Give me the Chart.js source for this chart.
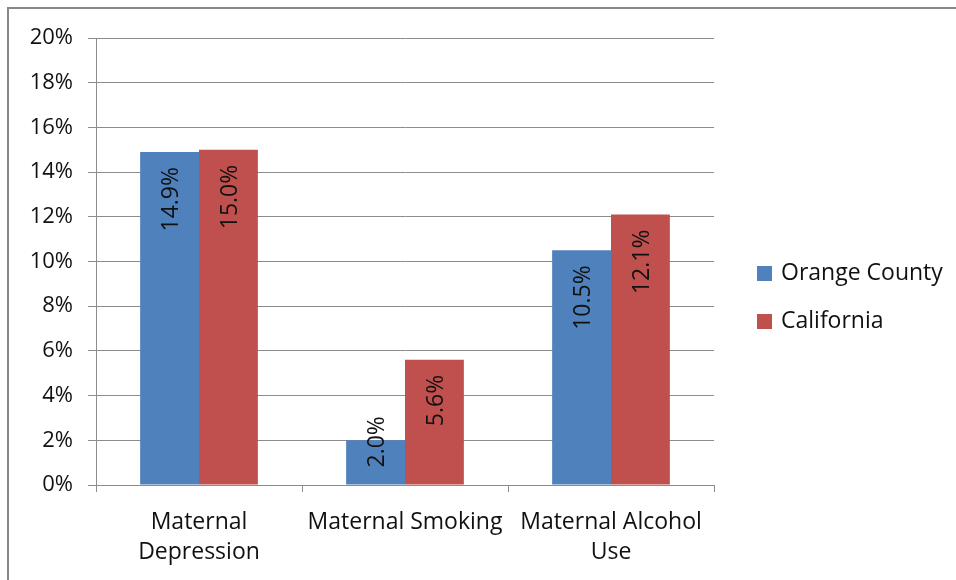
<!DOCTYPE html>
<html>
<head>
<meta charset="utf-8">
<script src="https://cdn.jsdelivr.net/npm/chart.js@4/dist/chart.umd.min.js"></script>
<style>
    html, body { margin: 0; padding: 0; background: #fff; overflow: hidden; }
    .wrap { position: relative; width: 956px; height: 580px; }
    .frame { position: absolute; left: 7px; top: 7px; width: 1000px; height: 700px; border-left: 2px solid #888; border-top: 2px solid #888; }
    canvas { position: absolute; left: 0; top: 0; }
</style>
</head>
<body>
<div class="wrap">
    <div class="frame"></div>
    <canvas id="chart" width="956" height="580"></canvas>
</div>
<script>
const categories = [['Maternal', 'Depression'], 'Maternal Smoking', ['Maternal Alcohol', 'Use']];
const orangeCounty = [14.9, 2.0, 10.5];
const california = [15.0, 5.6, 12.1];
const seriesNames = ['Orange County', 'California'];
const yMax = 20;
const yStep = 2;

const FONT = '"Open Sans", "Noto Sans", sans-serif';
const TEXT = '#111';
const GRID = '#8c8c8c';

// value labels, rotated, placed inside the top of each bar
const barLabels = {
    id: 'barLabels',
    afterDatasetsDraw(chart) {
        const ctx = chart.ctx;
        ctx.save();
        ctx.font = '23px ' + FONT;
        ctx.fillStyle = TEXT;
        ctx.textAlign = 'left';
        ctx.textBaseline = 'middle';
        chart.data.datasets.forEach((ds, i) => {
            chart.getDatasetMeta(i).data.forEach((bar, j) => {
                const txt = ds.data[j].toFixed(1) + '%';
                const len = ctx.measureText(txt).width;
                const top = Math.min(bar.y + 15, bar.base - 17 - len);
                ctx.save();
                ctx.translate(bar.x + 2, top + len);
                ctx.rotate(-Math.PI / 2);
                ctx.fillText(txt, 0, 0);
                ctx.restore();
            });
        });
        ctx.restore();
    }
};

// legend on the right
const sideLegend = {
    id: 'sideLegend',
    afterDraw(chart) {
        const ctx = chart.ctx;
        ctx.save();
        ctx.font = '23px ' + FONT;
        ctx.textBaseline = 'middle';
        chart.data.datasets.forEach((ds, i) => {
            const y = 273 + i * 48;
            ctx.fillStyle = ds.backgroundColor;
            ctx.fillRect(757, y - 7, 15, 15);
            ctx.fillStyle = TEXT;
            ctx.fillText(ds.label, 781, y);
        });
        ctx.restore();
    }
};

new Chart(document.getElementById('chart'), {
    type: 'bar',
    data: {
        labels: categories,
        datasets: [
            { label: seriesNames[0], data: orangeCounty, backgroundColor: '#4F81BD' },
            { label: seriesNames[1], data: california, backgroundColor: '#C0504D' }
        ]
    },
    options: {
        responsive: false,
        animation: false,
        datasets: { bar: { categoryPercentage: 2 / 3.5, barPercentage: 1 } },
        layout: { padding: { left: 0, top: 38, right: 242, bottom: 0 } },
        plugins: { legend: { display: false }, tooltip: { enabled: false } },
        scales: {
            x: {
                grid: { offset: true, drawOnChartArea: false, drawTicks: true, tickLength: 7, color: GRID },
                border: { color: GRID, width: 1 },
                ticks: { color: TEXT, font: { family: FONT, size: 23, lineHeight: 1.32 }, padding: 15, maxRotation: 0, autoSkip: false },
                afterFit: s => { s.height = 95; }
            },
            y: {
                min: 0, max: yMax,
                grid: { color: GRID, tickLength: 8 },
                border: { color: GRID, width: 1 },
                ticks: { stepSize: yStep, color: TEXT, font: { family: FONT, size: 22 }, padding: 15, callback: v => v + '%' },
                afterFit: s => { s.width = 96; }
            }
        }
    },
    plugins: [barLabels, sideLegend]
});
</script>
</body>
</html>
